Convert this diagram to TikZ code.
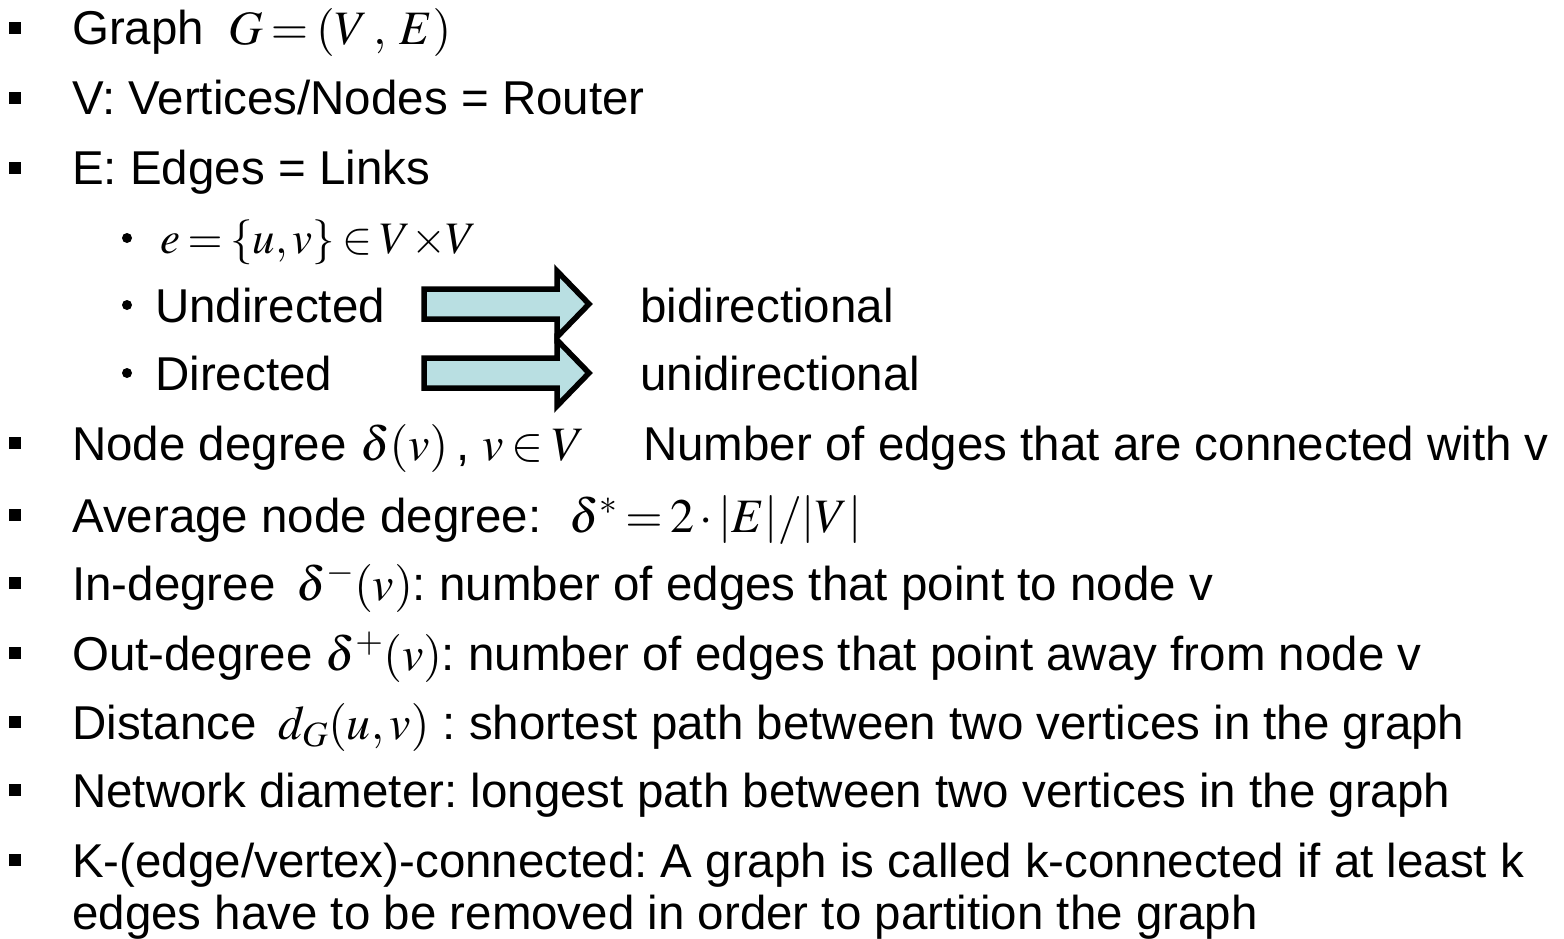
\documentclass[tikz,border=0pt]{standalone}
\usepackage{mathptmx}
\usepackage[no-math]{fontspec}
\setmainfont{Liberation Sans}
\frenchspacing
\definecolor{arrowfill}{RGB}{185,223,226}
% formulas are set in Times, with tight operator spacing
\thickmuskip=3mu
\medmuskip=2mu
\thinmuskip=2mu
\newcommand{\mth}[1]{{\fontsize{48}{48}\selectfont$#1$}}
\newcommand{\smth}[1]{{\fontsize{45}{45}\selectfont$#1$}}
\begin{document}
\begin{tikzpicture}[x=1pt,y=-1pt,
  txt/.style={anchor=base west, inner sep=0pt, font=\fontsize{47.5}{56}\selectfont},
  sqbullet/.style={rectangle, fill=black, minimum size=12pt, inner sep=0pt},
  dotbullet/.style={circle, fill=black, minimum size=10pt, inner sep=0pt},
  fatarrow/.style={draw=black, line width=5.5pt, fill=arrowfill, line join=miter}]
\useasboundingbox (0,0) rectangle (1564,939);

% first-level bullets
\foreach \y/\n in {28/1,98/2,168/3,443/4,515/5,583/6,653/7,722/8,790/9,860/10}
  \node[sqbullet] (sq\n) at (15,\y) {};
% second-level bullets
\foreach \y/\n in {238/1,305/2,373/3}
  \node[dotbullet] (dot\n) at (127,\y) {};

% first-level items
\node[txt] (graph) at (72,45) {Graph\hspace{24pt}\mth{G=(V\,,\;E)}};
\node[txt] (vert) at (72,115) {V: Vertices/Nodes = Router};
\node[txt] (edge) at (72,185) {E: Edges = Links};

% second-level items
\node[txt] (edef) at (160,253) {\smth{e=\{u,v\}\in V\!\times\! V}};
\node[txt] (undir) at (155,322) {Undirected};
\node[txt] (dir) at (155,390) {Directed};
\node[txt] (bidir) at (640,322) {bidirectional};
\node[txt] (unidir) at (640,390) {unidirectional};

% block arrows
\draw[fatarrow] (424,289) -- (557,289) -- (557,271) -- (589,304)
  -- (557,337) -- (557,319) -- (424,319) -- cycle;
\draw[fatarrow] (424,358) -- (557,358) -- (557,340) -- (589,373)
  -- (557,406) -- (557,388) -- (424,388) -- cycle;

\node[txt] (deg) at (72,460) {Node degree \mth{\delta(v)}\,, \mth{v\in V}};
\node[txt] (degtxt) at (643,460) {Number of edges that are connected with v};
\node[txt] (avg) at (72,532) {Average node degree:\hspace{28pt}\mth{\delta^{*}=2\cdot\left|E\right|\!/\!\left|V\right|}};
\node[txt] (indeg) at (72,600) {In-degree \,\mth{\delta^{-}(v)}: number of edges that point to node v};
\node[txt] (outdeg) at (72,670) {Out-degree \mth{\delta^{+}(v)}: number of edges that point away from node v};
\node[txt] (dist) at (72,739) {Distance \,\mth{d_{G}(u,v)} : shortest path between two vertices in the graph};
\node[txt] (diam) at (72,807) {Network diameter: longest path between two vertices in the graph};
\node[txt] (kconn) at (72,877) {K-(edge/vertex)-connected: A graph is called k-connected if at least k};
\node[txt] (kconn2) at (72,929) {edges have to be removed in order to partition the graph};
\end{tikzpicture}
\end{document}
